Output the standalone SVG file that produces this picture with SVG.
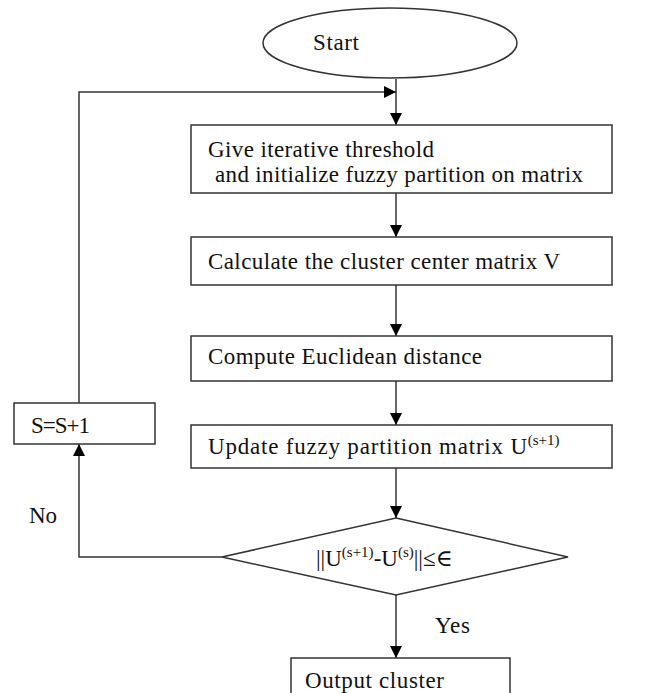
<svg xmlns="http://www.w3.org/2000/svg" width="647" height="693" viewBox="0 0 647 693">
<style>
.n{fill:#fff;stroke:#333;stroke-width:1.5}
.t{font-family:"Liberation Serif","DejaVu Serif",serif;font-size:23px;fill:#111}
.s{font-size:15px}
.c{fill:none;stroke:#333;stroke-width:1.5}
</style>
<defs>
<marker id="a" markerWidth="13" markerHeight="12" refX="12" refY="6" orient="auto" markerUnits="userSpaceOnUse">
<path d="M0,0 L12,6 L0,12 z" fill="#000"/>
</marker>
</defs>
<rect width="647" height="693" fill="#fff"/>
<g id="connectors">
<path class="c" d="M396,79 V125" marker-end="url(#a)"/>
<path class="c" d="M79,403 V92 H396" marker-end="url(#a)"/>
<path class="c" d="M396,193 V237" marker-end="url(#a)"/>
<path class="c" d="M396,285 V336" marker-end="url(#a)"/>
<path class="c" d="M396,381 V425" marker-end="url(#a)"/>
<path class="c" d="M396,468 V518" marker-end="url(#a)"/>
<path class="c" d="M222,557 H79 V444" marker-end="url(#a)"/>
<path class="c" d="M396,595 V658" marker-end="url(#a)"/>
</g>
<g id="start"><ellipse class="n" cx="390" cy="43" rx="127" ry="35"/><text class="t" x="313" y="50" textLength="46" lengthAdjust="spacing">Start</text></g>
<g id="init"><rect class="n" x="191" y="125" width="421" height="68"/><text class="t" x="208" y="157" textLength="226" lengthAdjust="spacing">Give iterative threshold</text><text class="t" x="215" y="182" textLength="368" lengthAdjust="spacing">and initialize fuzzy partition on matrix</text></g>
<g id="center"><rect class="n" x="191" y="237" width="421" height="48"/><text class="t" x="208" y="269" textLength="352" lengthAdjust="spacing">Calculate the cluster center matrix V</text></g>
<g id="dist"><rect class="n" x="191" y="336" width="421" height="45"/><text class="t" x="208" y="364" textLength="274" lengthAdjust="spacing">Compute Euclidean distance</text></g>
<g id="update"><rect class="n" x="191" y="425" width="421" height="43"/><text class="t" x="208" y="454"><tspan textLength="319" lengthAdjust="spacing">Update fuzzy partition matrix U</tspan><tspan class="s" dy="-9">(s+1)</tspan></text></g>
<g id="inc"><rect class="n" x="14" y="403" width="141" height="41"/><text class="t" x="31" y="433" textLength="59" lengthAdjust="spacing">S=S+1</text></g>
<g id="check"><polygon class="n" points="396,518 568,557 396,595 222,557"/><text class="t" x="316" y="566">||U<tspan class="s" dy="-9">(s+1)</tspan><tspan dy="9">-U</tspan><tspan class="s" dy="-9">(s)</tspan><tspan dy="9">||≤∈</tspan></text></g>
<g id="output"><rect class="n" x="291" y="658" width="219" height="50"/><text class="t" x="305" y="688" textLength="139" lengthAdjust="spacing">Output cluster</text></g>
<text class="t" x="29" y="523" textLength="28" lengthAdjust="spacing">No</text>
<text class="t" x="435" y="633" textLength="35" lengthAdjust="spacing">Yes</text>
</svg>
